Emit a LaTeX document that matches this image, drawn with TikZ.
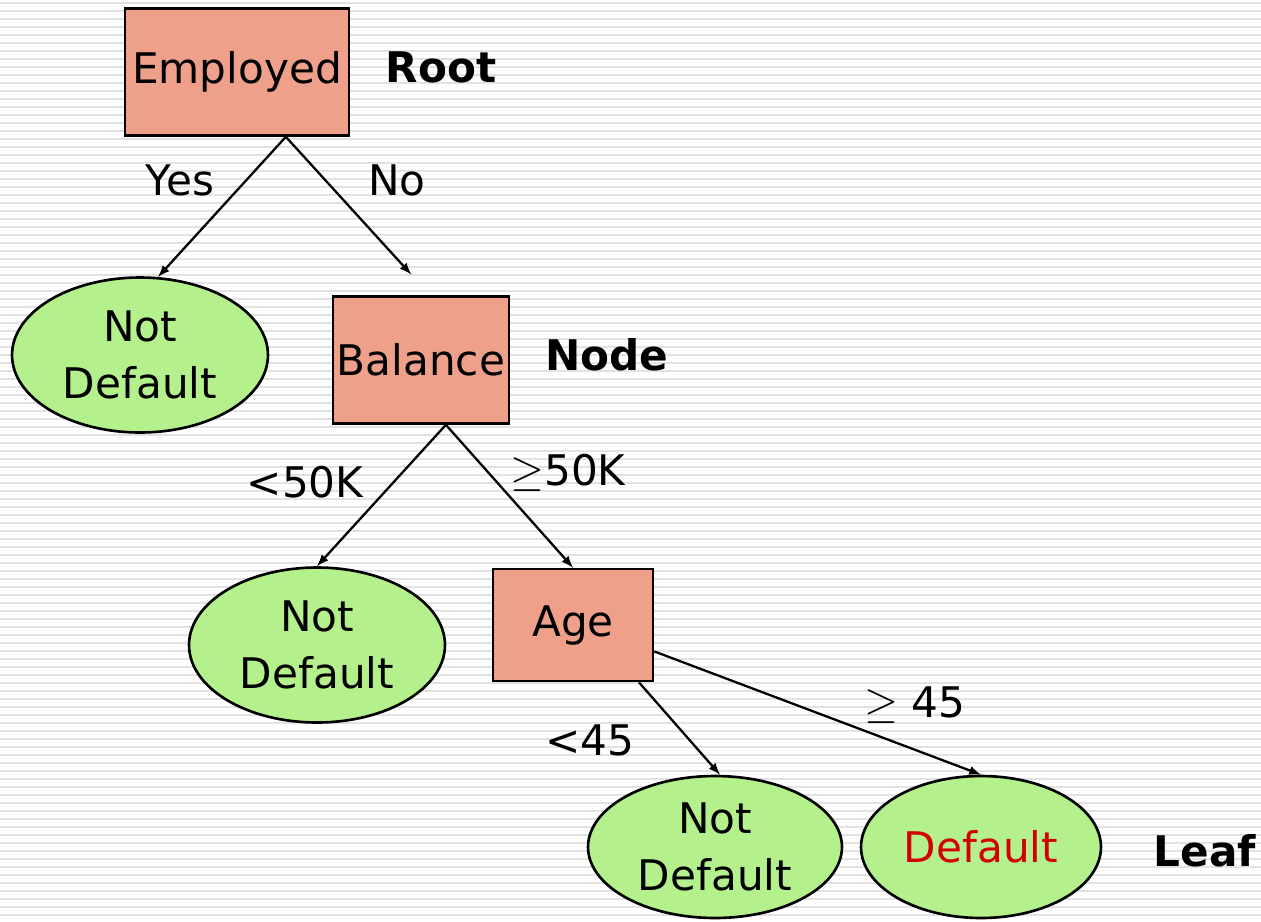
\documentclass[tikz,border=0pt]{standalone}
\usepackage{fontspec}
\setmainfont{DejaVu Sans}
\usepackage{tikz}
\usetikzlibrary{shapes.geometric}
\usetikzlibrary{positioning}
\usetikzlibrary{calc}
\definecolor{boxfill}{RGB}{238,160,138}
\definecolor{leaffill}{RGB}{180,240,140}
\definecolor{stripe}{RGB}{226,226,226}
\definecolor{defred}{RGB}{210,0,0}
\tikzset{every picture/.style={line width=1.3pt},
  decision/.style={draw, shape=rectangle, fill=boxfill, line width=1.5pt, inner sep=0pt, font=\fontsize{24}{30}\selectfont},
  outcome/.style={draw, ellipse, fill=leaffill, line width=1.5pt, inner sep=0pt, align=center, font=\fontsize{24}{32}\selectfont},
  branch/.style={font=\fontsize{24}{30}\selectfont},
  kind/.style={font=\fontsize{24}{30}\selectfont\bfseries}}
\begin{document}
\begin{tikzpicture}[x=0.02cm,y=-0.02cm]
\useasboundingbox (0,0) rectangle (1261,921);
\foreach \s in {3,11,...,919} \draw[stripe, line width=1.1pt] (0,\s) -- (1261,\s);
\node (emp) [decision, minimum width=4.48cm, minimum height=2.54cm] at (237,72) {Employed};
\node (root) [kind] at (441,67) {Root};
\node (nd1) [outcome, minimum width=5.12cm, minimum height=3.1cm] at (140,355) {Not\\Default};
\node (bal) [decision, minimum width=3.52cm, minimum height=2.54cm] at (421,360) {Balance};
\node (node) [kind] at (607,355) {Node};
\node (nd2) [outcome, minimum width=5.12cm, minimum height=3.1cm] at (317,645) {Not\\Default};
\node (age) [decision, minimum width=3.2cm, minimum height=2.24cm] at (573,625) {Age};
\node (nd3) [outcome, minimum width=5.08cm, minimum height=2.84cm] at (715,847) {Not\\Default};
\node (dft) [outcome, minimum width=4.8cm, minimum height=2.84cm] at (981,847) {\textcolor{defred}{Default}};
\node (leaf) [kind] at (1205,851) {Leaf};
\node (yes) [branch] at (180,180) {Yes};
\node (no) [branch] at (397,180) {No};
\node (lt50) [branch] at (305,482) {<50K};
\node (ge50) [branch] at (568,473) {$\geq$50K};
\node (lt45) [branch] at (590,740) {<45};
\node (ge45) [branch] at (915,705) {$\geq$ 45};
\draw[-latex] (emp.-53) -- (nd1.77);
\draw[-latex, shorten >=0.56cm] (emp.-53) -- (bal.82);
\draw[-latex] (bal.-69) -- (nd2.north);
\draw[-latex] (bal.-69) -- (age.north);
\draw[-latex] (age.-41) -- (nd3.86);
\draw[-latex] (age.-18) -- (dft.north);
\end{tikzpicture}
\end{document}
